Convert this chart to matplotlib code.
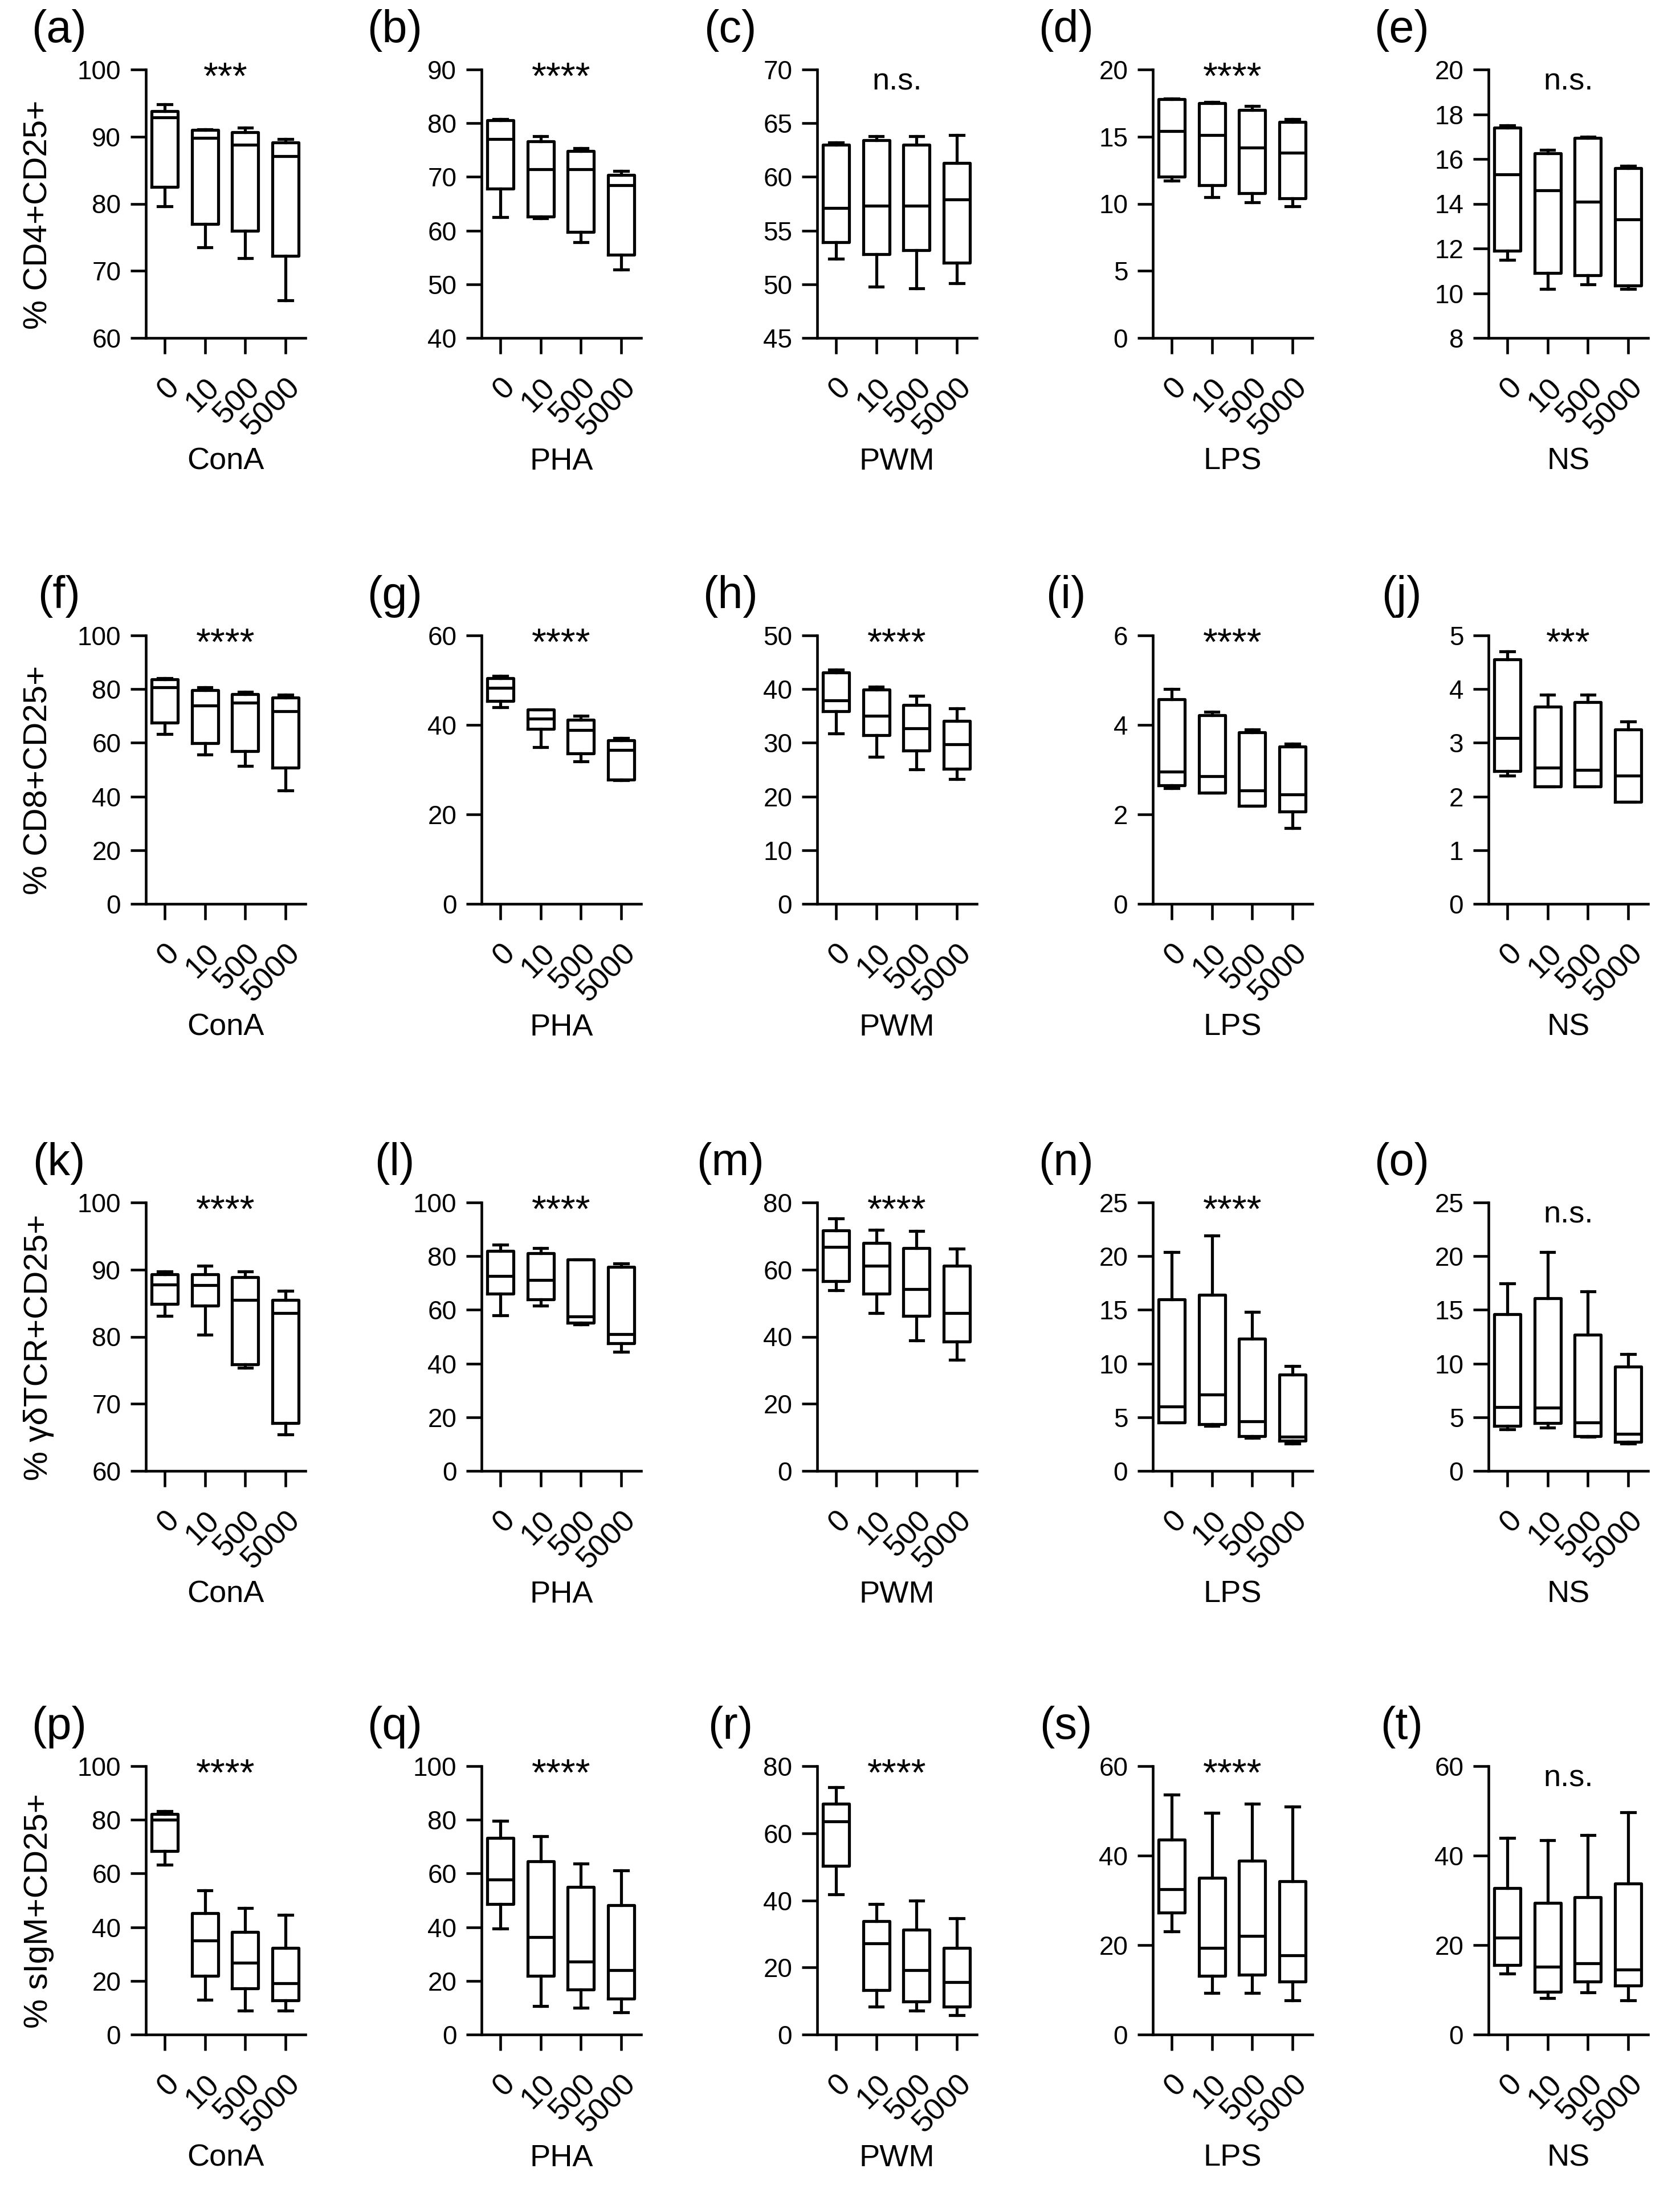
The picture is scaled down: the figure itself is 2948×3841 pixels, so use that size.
import matplotlib
matplotlib.use('Agg')
import matplotlib.pyplot as plt
from matplotlib import font_manager
import numpy as np

plt.rcParams['font.family'] = ['Liberation Sans', 'DejaVu Sans']
_names = {f.name for f in font_manager.fontManager.ttflist}
NARROW = ['Liberation Sans Narrow', 'Liberation Sans', 'DejaVu Sans'] if 'Liberation Sans Narrow' in _names else ['Liberation Sans', 'DejaVu Sans']

# ---------------- data ----------------
doses = ['0', '10', '500', '5000']
mitogens = ['ConA', 'PHA', 'PWM', 'LPS', 'NS']
row_ylabels = ['% CD4+CD25+', '% CD8+CD25+', '% γδTCR+CD25+', '% sIgM+CD25+']
panel_letters = list('abcdefghijklmnopqrst')
signif_row1 = ['***', '****', 'n.s.', '****', 'n.s.']
signif_row2 = ['****', '****', '****', '****', '***']
signif_row3 = ['****', '****', '****', '****', 'n.s.']
signif_row4 = ['****', '****', '****', '****', 'n.s.']

# each panel: [whisker low, Q1, median, Q3, whisker high] for doses 0,10,500,5000
panel_a = [[79.6, 73.5, 71.9, 65.6], [82.5, 77.0, 76.0, 72.2], [92.9, 89.8, 88.8, 87.1], [93.8, 91.0, 90.7, 89.1], [94.8, 91.1, 91.3, 89.6]]
panel_b = [[62.5, 62.3, 57.8, 52.7], [67.8, 62.6, 59.7, 55.5], [77.0, 71.4, 71.4, 68.4], [80.5, 76.6, 74.8, 70.4], [80.8, 77.6, 75.3, 71.1]]
panel_c = [[52.4, 49.8, 49.6, 50.1], [53.9, 52.8, 53.2, 52.0], [57.1, 57.3, 57.3, 57.9], [63.0, 63.4, 63.0, 61.3], [63.2, 63.8, 63.8, 63.9]]
panel_d = [[11.7, 10.5, 10.1, 9.8], [12.0, 11.4, 10.8, 10.4], [15.4, 15.1, 14.2, 13.8], [17.8, 17.5, 17.0, 16.1], [17.85, 17.6, 17.3, 16.3]]
panel_e = [[11.5, 10.2, 10.4, 10.2], [11.9, 10.9, 10.8, 10.35], [15.3, 14.6, 14.1, 13.3], [17.4, 16.25, 16.95, 15.6], [17.5, 16.4, 17.0, 15.7]]
panel_f = [[63.3, 55.6, 51.3, 42.3], [67.5, 59.9, 56.8, 50.8], [80.7, 73.8, 75.0, 71.8], [83.6, 79.6, 78.1, 76.9], [84.0, 80.7, 79.0, 78.0]]
panel_g = [[44.0, 35.0, 31.8, 27.7], [45.4, 39.1, 33.6, 27.8], [48.3, 41.4, 38.8, 34.4], [50.5, 43.4, 41.2, 36.6], [50.9, 43.4, 42.0, 37.1]]
panel_h = [[31.7, 27.4, 25.1, 23.2], [35.9, 31.4, 28.6, 25.2], [37.9, 35.0, 32.7, 29.7], [43.1, 39.9, 37.0, 34.1], [43.6, 40.4, 38.8, 36.4]]
panel_i = [[2.58, 2.48, 2.19, 1.69], [2.65, 2.48, 2.19, 2.06], [2.95, 2.85, 2.54, 2.45], [4.57, 4.22, 3.83, 3.52], [4.80, 4.29, 3.90, 3.58]]
panel_j = [[2.39, 2.19, 2.19, 1.90], [2.47, 2.19, 2.19, 1.90], [3.09, 2.54, 2.50, 2.39], [4.55, 3.67, 3.76, 3.25], [4.70, 3.90, 3.90, 3.40]]
panel_k = [[83.1, 80.3, 75.4, 65.4], [84.9, 84.6, 75.9, 67.1], [87.8, 87.7, 85.5, 83.5], [89.3, 89.3, 88.9, 85.5], [89.75, 90.6, 89.75, 86.8]]
panel_l = [[57.9, 61.6, 54.6, 44.3], [66.0, 64.0, 55.2, 47.6], [72.7, 71.2, 57.6, 51.0], [81.9, 81.1, 78.8, 76.0], [84.3, 83.1, 78.8, 77.3]]
panel_m = [[53.8, 47.1, 38.9, 33.1], [56.6, 52.8, 46.2, 38.5], [66.8, 61.1, 54.2, 47.1], [71.7, 68.0, 66.4, 61.1], [75.2, 71.8, 71.5, 66.3]]
panel_n = [[4.5, 4.2, 3.1, 2.55], [4.5, 4.36, 3.26, 2.8], [6.0, 7.1, 4.64, 3.2], [16.0, 16.4, 12.3, 8.98], [20.4, 21.9, 14.8, 9.76]]
panel_o = [[3.9, 4.05, 3.2, 2.55], [4.2, 4.45, 3.26, 2.7], [5.95, 5.9, 4.5, 3.45], [14.6, 16.1, 12.7, 9.7], [17.45, 20.4, 16.7, 10.9]]
panel_p = [[63.3, 13.0, 8.9, 8.9], [68.4, 21.9, 17.3, 12.8], [80.0, 35.0, 26.8, 19.1], [82.1, 45.3, 38.3, 32.2], [83.3, 53.8, 47.1, 44.6]]
panel_q = [[39.5, 10.6, 10.0, 8.2], [48.7, 21.9, 16.7, 13.4], [57.8, 36.3, 27.1, 24.0], [73.2, 64.5, 55.0, 48.3], [79.7, 73.8, 63.6, 61.1]]
panel_r = [[41.8, 8.3, 7.1, 5.8], [50.3, 13.3, 9.9, 8.3], [63.5, 27.1, 19.2, 15.6], [68.8, 33.8, 31.3, 25.8], [73.8, 38.9, 39.9, 34.7]]
panel_s = [[23.0, 9.3, 9.3, 7.7], [27.2, 13.1, 13.4, 11.9], [32.5, 19.3, 22.1, 17.7], [43.6, 35.0, 38.9, 34.3], [53.6, 49.5, 51.6, 50.9]]
panel_t = [[13.6, 8.2, 9.4, 7.6], [15.5, 9.6, 11.8, 10.9], [21.6, 15.1, 15.9, 14.5], [32.8, 29.4, 30.7, 33.8], [44.0, 43.4, 44.6, 49.7]]

# y axis: (min, max, step)
yaxis_row1 = [(60, 100, 10), (40, 90, 10), (45, 70, 5), (0, 20, 5), (8, 20, 2)]
yaxis_row2 = [(0, 100, 20), (0, 60, 20), (0, 50, 10), (0, 6, 2), (0, 5, 1)]
yaxis_row3 = [(60, 100, 10), (0, 100, 20), (0, 80, 20), (0, 25, 5), (0, 25, 5)]
yaxis_row4 = [(0, 100, 20), (0, 100, 20), (0, 80, 20), (0, 60, 20), (0, 60, 20)]

panels = [panel_a, panel_b, panel_c, panel_d, panel_e,
          panel_f, panel_g, panel_h, panel_i, panel_j,
          panel_k, panel_l, panel_m, panel_n, panel_o,
          panel_p, panel_q, panel_r, panel_s, panel_t]
signifs = [signif_row1, signif_row2, signif_row3, signif_row4]
yaxes = [yaxis_row1, yaxis_row2, yaxis_row3, yaxis_row4]

# ---------------- layout ----------------
W, H = 2948, 3841
fig = plt.figure(figsize=(W / 300, H / 300), dpi=300)

col_left_px = [256 + 589 * i for i in range(5)]
ax_w_px = 280
row_top_px = [122, 1115, 2110, 3099]
ax_h_px = 471

LW_BOX = 1.25
LW_AX = 1.1

for r in range(4):
    for c in range(5):
        idx = r * 5 + c
        lo, q1, med, q3, hi = panels[idx]
        left = col_left_px[c] / W
        bottom = 1 - (row_top_px[r] + ax_h_px) / H
        ax = fig.add_axes([left, bottom, ax_w_px / W, ax_h_px / H])
        stats = []
        for k in range(4):
            stats.append(dict(whislo=lo[k], q1=q1[k], med=med[k], q3=q3[k],
                              whishi=hi[k], fliers=[], label=doses[k]))
        line_kw = dict(color='black', linewidth=LW_BOX)
        ax.bxp(stats, positions=[1, 2, 3, 4], widths=0.65, capwidths=0.33,
               showfliers=False, boxprops=line_kw, whiskerprops=line_kw,
               capprops=line_kw, medianprops=line_kw)
        ymin, ymax, step = yaxes[r][c]
        ax.set_ylim(ymin, ymax)
        ax.set_yticks(np.arange(ymin, ymax + step / 2, step))
        ax.set_xlim(0.533, 4.495)
        ax.set_xticks([1, 2, 3, 4])
        ax.set_xticklabels(doses, rotation=45, ha='right', rotation_mode='anchor')
        for sp in ['top', 'right']:
            ax.spines[sp].set_visible(False)
        for sp in ['left', 'bottom']:
            ax.spines[sp].set_linewidth(LW_AX)
        ax.tick_params(axis='both', which='major', width=LW_AX,
                       direction='out', color='black')
        ax.tick_params(axis='y', length=6.5, pad=4, labelsize=11)
        ax.tick_params(axis='x', length=6.7, pad=8, labelsize=13)
        # x label (mitogen)
        ax.set_xlabel(mitogens[c], fontsize=13, va='center')
        ax.xaxis.set_label_coords(0.5, -0.46)
        # significance
        s = signifs[r][c]
        if s == 'n.s.':
            ax.text(0.5, 0.955, s, transform=ax.transAxes, ha='center',
                    va='center', fontsize=13)
        else:
            ax.text(0.5, 0.965, s, transform=ax.transAxes, ha='center',
                    va='center', fontsize=16)
        # panel letter
        ax.text(-0.545, 1.145, '(' + panel_letters[idx] + ')', transform=ax.transAxes,
                ha='center', va='center', fontsize=19, family=NARROW)
        if c == 0:
            ax.set_ylabel(row_ylabels[r], fontsize=14)
            ax.yaxis.set_label_coords(-0.575, 0.46)

fig.savefig('out.png', dpi=300)
